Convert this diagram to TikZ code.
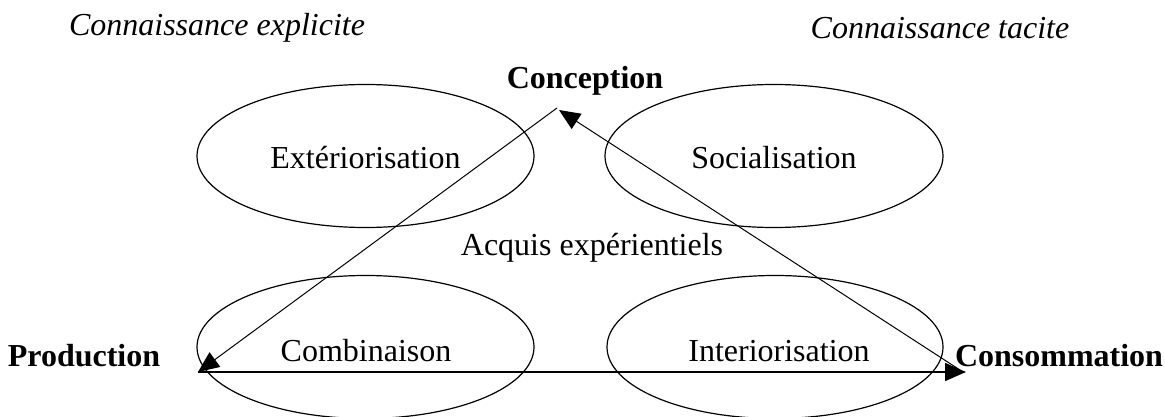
\documentclass[tikz,border=0pt]{standalone}
\usepackage{fontspec}
\setmainfont{Liberation Serif}
\usetikzlibrary{arrows.meta}
\begin{document}
\begin{tikzpicture}[x=1pt,y=-1pt,
  every node/.style={font=\fontsize{32}{36}\selectfont, inner sep=0pt},
  oval/.style={line width=1.2pt},
  flow/.style={line width=1pt, -{Triangle[length=21pt,width=18pt]}},
  title/.style={font=\fontsize{32}{36}\selectfont\itshape},
  pole/.style={font=\fontsize{32}{36}\selectfont\bfseries}]
\useasboundingbox (0,0) rectangle (1165,417);
\draw[oval] (365.5,156) ellipse (168.5 and 71.5);
\draw[oval] (774,156) ellipse (169 and 71.5);
\draw[oval] (365.5,347) ellipse (168.5 and 71.5);
\draw[oval] (775,347) ellipse (168 and 71.5);
\node (ext) at (365.5,158) {Extériorisation};
\node (soc) at (774,158) {Socialisation};
\node (com) at (366,351) {Combinaison};
\node (int) at (779,351) {Interiorisation};
\node (acq) at (592,248) {Acquis expérientiels};
\node[title] (expl) at (217,28) {Connaissance explicite};
\node[title] (tac) at (940,28) {Connaissance tacite};
\node[pole] (conc) at (585,81) {Conception};
\node[pole] (prod) at (84,356) {Production};
\node[pole] (cons) at (1059,356) {Consommation};
\coordinate (kA) at (557,108);
\coordinate (kB) at (559,110);
\coordinate (p) at (198,372);
\coordinate (c) at (966,372);
\coordinate (cA) at (960,370);
\draw[flow] (kA) -- (p);
\draw[flow] (cA) -- (kB);
\draw[flow, line width=1.6pt] (p) -- (c);
\end{tikzpicture}
\end{document}
